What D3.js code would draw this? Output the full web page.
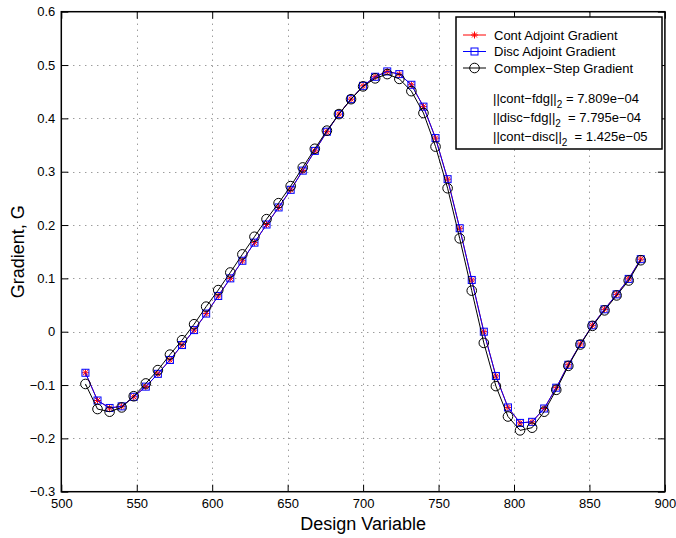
<!DOCTYPE html>
<html>
<head>
<meta charset="utf-8">
<script src="https://cdn.jsdelivr.net/npm/d3@7"></script>
<style>
  body { margin: 0; background: #fff; }
  svg { display: block; font-family: "Liberation Sans", Arial, Helvetica, sans-serif; }
</style>
</head>
<body>
<svg id="chart" width="676" height="538"></svg>
<script>
// design variable index (x)
const designVar = [516, 524, 532, 540, 548, 556, 564, 572, 580, 588, 596, 604, 612, 620, 628, 636,
  644, 652, 660, 668, 676, 684, 692, 700, 708, 716, 724, 732, 740, 748, 756, 764, 772, 780,
  788, 796, 804, 812, 820, 828, 836, 844, 852, 860, 868, 876, 884];

// continuous adjoint gradient
const contGrad = [-0.077, -0.129, -0.143, -0.140, -0.122, -0.103, -0.079, -0.053, -0.025, 0.003,
  0.034, 0.067, 0.100, 0.133, 0.167, 0.201, 0.233, 0.266, 0.302, 0.339, 0.375, 0.408, 0.436,
  0.461, 0.478, 0.488, 0.483, 0.463, 0.422, 0.363, 0.286, 0.194, 0.097, 0.000, -0.083, -0.142,
  -0.171, -0.169, -0.144, -0.105, -0.062, -0.023, 0.012, 0.042, 0.070, 0.099, 0.136];

// discrete adjoint gradient
const discGrad = [-0.077, -0.129, -0.143, -0.140, -0.122, -0.103, -0.079, -0.053, -0.025, 0.003,
  0.034, 0.067, 0.100, 0.133, 0.167, 0.201, 0.233, 0.266, 0.302, 0.339, 0.375, 0.408, 0.436,
  0.461, 0.478, 0.488, 0.483, 0.463, 0.422, 0.363, 0.286, 0.194, 0.097, 0.000, -0.083, -0.142,
  -0.171, -0.169, -0.144, -0.105, -0.062, -0.023, 0.012, 0.042, 0.070, 0.099, 0.136];

// complex-step gradient
const csGrad = [-0.098, -0.145, -0.150, -0.142, -0.121, -0.097, -0.072, -0.043, -0.016, 0.014,
  0.047, 0.078, 0.111, 0.145, 0.178, 0.211, 0.241, 0.273, 0.308, 0.343, 0.377, 0.408, 0.436,
  0.460, 0.475, 0.483, 0.474, 0.451, 0.410, 0.347, 0.269, 0.175, 0.077, -0.021, -0.102, -0.159,
  -0.185, -0.180, -0.150, -0.109, -0.064, -0.024, 0.011, 0.040, 0.068, 0.096, 0.134];

const xTicks = [500, 550, 600, 650, 700, 750, 800, 850, 900];
const yTicks = [-0.3, -0.2, -0.1, 0, 0.1, 0.2, 0.3, 0.4, 0.5, 0.6];

const legendNames = ['Cont Adjoint Gradient', 'Disc Adjoint Gradient', 'Complex\u2212Step Gradient'];
const normLabels = ['||cont\u2212fdg||', '||disc\u2212fdg||', '||cont\u2212disc||'];
const normValues = [' = 7.809e\u221204', '  = 7.795e\u221204', '  = 1.425e\u221205'];

const svg = d3.select('#chart');
const pL = 61.3, pR = 664.9, pT = 11.7, pB = 491.7;

const x = d3.scaleLinear().domain([500, 900]).range([pL, pR]);
const y = d3.scaleLinear().domain([-0.3, 0.6]).range([pB, pT]);

const fmt = v => v === 0 ? '0' : d3.format('.1f')(v);

// grid
const grid = svg.append('g').attr('stroke', '#000').attr('stroke-width', 1)
  .attr('stroke-dasharray', '1,5').attr('opacity', 0.55);
grid.selectAll('.gx').data(xTicks.slice(1, -1)).enter().append('line')
  .attr('x1', d => Math.round(x(d)) + 0.5).attr('x2', d => Math.round(x(d)) + 0.5)
  .attr('y1', pT).attr('y2', pB);
grid.selectAll('.gy').data(yTicks.slice(1, -1)).enter().append('line')
  .attr('y1', d => Math.round(y(d)) + 0.5).attr('y2', d => Math.round(y(d)) + 0.5)
  .attr('x1', pL).attr('x2', pR);

// axes with inward ticks
const tk = 7;
const gB = svg.append('g').attr('transform', `translate(0,${pB})`)
  .call(d3.axisBottom(x).tickValues(xTicks).tickSize(-tk).tickPadding(5).tickFormat(d3.format('d')));
const gL = svg.append('g').attr('transform', `translate(${pL},0)`)
  .call(d3.axisLeft(y).tickValues(yTicks).tickSize(-tk).tickPadding(6).tickFormat(fmt));
const gT = svg.append('g').attr('transform', `translate(0,${pT})`)
  .call(d3.axisTop(x).tickValues(xTicks).tickSize(-tk).tickFormat(''));
const gR = svg.append('g').attr('transform', `translate(${pR},0)`)
  .call(d3.axisRight(y).tickValues(yTicks).tickSize(-tk).tickFormat(''));
[gB, gL, gT, gR].forEach(g => {
  g.select('.domain').remove();
  g.selectAll('line').attr('stroke', '#000').attr('stroke-width', 1);
  g.selectAll('text').attr('fill', '#000').attr('font-size', 13)
    .attr('font-family', '"Liberation Sans", Arial, sans-serif');
});
gB.selectAll('text').attr('dy', '0.9em');

svg.append('rect').attr('x', pL).attr('y', pT)
  .attr('width', pR - pL).attr('height', pB - pT)
  .attr('fill', 'none').attr('stroke', '#000').attr('stroke-width', 1.5);

// axis labels
svg.append('text').attr('x', (pL + pR) / 2).attr('y', 530)
  .attr('text-anchor', 'middle').attr('font-size', 18).text('Design Variable');
svg.append('text').attr('transform', `translate(24,${(pT + pB) / 2}) rotate(-90)`)
  .attr('text-anchor', 'middle').attr('font-size', 18).text('Gradient, G');

// markers
const star = (g, cx, cy, s, color) => {
  g.append('path')
    .attr('d', `M${cx - s},${cy}H${cx + s}M${cx},${cy - s}V${cy + s}` +
      `M${cx - s * 0.7},${cy - s * 0.7}L${cx + s * 0.7},${cy + s * 0.7}` +
      `M${cx - s * 0.7},${cy + s * 0.7}L${cx + s * 0.7},${cy - s * 0.7}`)
    .attr('stroke', color).attr('stroke-width', 1).attr('fill', 'none');
};
const square = (g, cx, cy, s, color) => {
  g.append('rect').attr('x', cx - s).attr('y', cy - s).attr('width', 2 * s).attr('height', 2 * s)
    .attr('stroke', color).attr('stroke-width', 1).attr('fill', 'none');
};
const circle = (g, cx, cy, r, color) => {
  g.append('circle').attr('cx', cx).attr('cy', cy).attr('r', r)
    .attr('stroke', color).attr('stroke-width', 1).attr('fill', 'none');
};

const series = [
  { vals: contGrad, color: '#ff0000', mark: star, size: 3.5 },
  { vals: discGrad, color: '#0000ff', mark: square, size: 3.5 },
  { vals: csGrad, color: '#000000', mark: circle, size: 4.8 }
];

const line = d3.line().x(d => x(d[0])).y(d => y(d[1]));
series.forEach(s => {
  const pts = designVar.map((d, i) => [d, s.vals[i]]);
  const g = svg.append('g');
  g.append('path').datum(pts).attr('d', line)
    .attr('fill', 'none').attr('stroke', s.color).attr('stroke-width', 1);
  pts.forEach(p => s.mark(g, x(p[0]), y(p[1]), s.size, s.color));
});

// legend
const lg = svg.append('g');
lg.append('rect').attr('x', 456).attr('y', 17).attr('width', 206).attr('height', 132)
  .attr('fill', '#fff').attr('stroke', '#000').attr('stroke-width', 1.5);
const rowY = [35, 51.5, 68];
series.forEach((s, i) => {
  lg.append('line').attr('x1', 463).attr('x2', 486).attr('y1', rowY[i]).attr('y2', rowY[i])
    .attr('stroke', s.color).attr('stroke-width', 1);
  s.mark(lg, 474.5, rowY[i], s.size, s.color);
  lg.append('text').attr('x', 494).attr('y', rowY[i]).attr('dy', '0.35em')
    .attr('font-size', 13).text(legendNames[i]);
});
const normY = [103, 122, 141];
normLabels.forEach((lbl, i) => {
  const t = lg.append('text').attr('x', 493).attr('y', normY[i]).attr('font-size', 13);
  t.append('tspan').text(lbl);
  t.append('tspan').attr('dy', 5).attr('font-size', 10).text('2');
  t.append('tspan').attr('dy', -5).attr('font-size', 13).style('white-space', 'pre').text(normValues[i]);
});
</script>
</body>
</html>
